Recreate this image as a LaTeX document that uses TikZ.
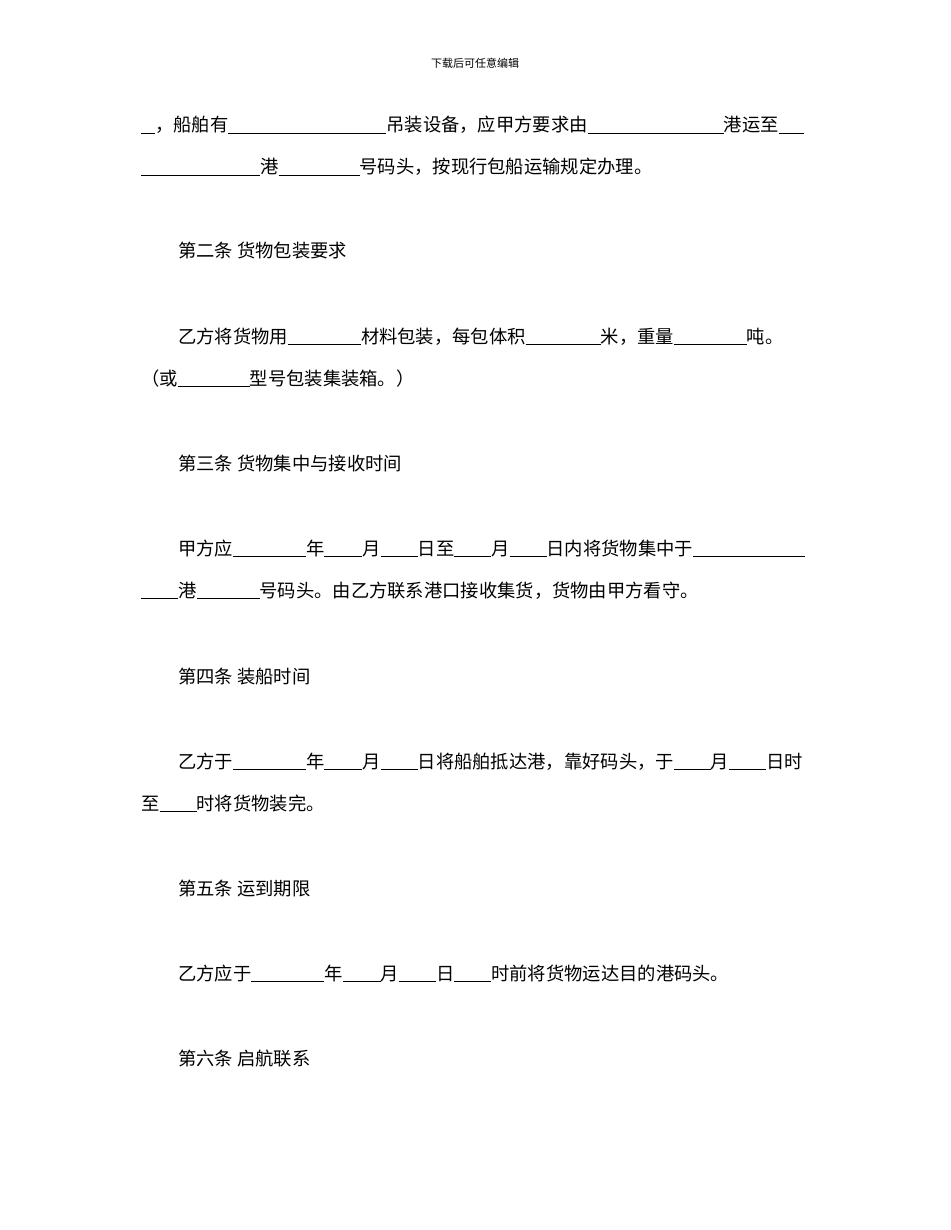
\documentclass[tikz,border=0pt]{standalone}
\usepackage{fontspec}
\newfontfamily\cjk{Noto Sans CJK SC}
\newcommand{\bl}[1]{\rule[-2pt]{#1pt}{0.6pt}}
\begin{document}
\begin{tikzpicture}[x=1pt,y=-1pt,
  ln/.style={anchor=base west,inner sep=0pt,font=\cjk\fontsize{18.3}{20}\selectfont},
  hd/.style={anchor=base,inner sep=0pt,font=\cjk\fontsize{11}{12}\selectfont}]
\useasboundingbox[fill=white] (0,0) rectangle (950,1230);
\node[hd] (h) at (475,68) {下载后可任意编辑};
\node[ln] (l1) at (141,132) {\bl{14}，船舶有\bl{158}吊装设备，应甲方要求由\bl{136}港运至\bl{25}};
\node[ln] (l2) at (141,174) {\bl{119}港\bl{81}号码头，按现行包船运输规定办理。};
\node[ln] (l3) at (178,258) {第二条\ 货物包装要求};
\node[ln] (l4) at (178,343) {乙方将货物用\bl{73}材料包装，每包体积\bl{75}米，重量\bl{73}吨。};
\node[ln] (l5) at (141,385) {（或\bl{72}型号包装集装箱。）};
\node[ln] (l6) at (178,470) {第三条\ 货物集中与接收时间};
\node[ln] (l7) at (178,555) {甲方应\bl{73}年\bl{38}月\bl{37}日至\bl{37}月\bl{37}日内将货物集中于\bl{112}};
\node[ln] (l8) at (141,597) {\bl{37}港\bl{63}号码头。由乙方联系港口接收集货，货物由甲方看守。};
\node[ln] (l9) at (178,683) {第四条\ 装船时间};
\node[ln] (l10) at (178,768) {乙方于\bl{73}年\bl{38}月\bl{37}日将船舶抵达港，靠好码头，于\bl{37}月\bl{37}日时};
\node[ln] (l11) at (141,810) {至\bl{37}时将货物装完。};
\node[ln] (l12) at (178,895) {第五条\ 运到期限};
\node[ln] (l13) at (178,980) {乙方应于\bl{73}年\bl{38}月\bl{37}日\bl{37}时前将货物运达目的港码头。};
\node[ln] (l14) at (178,1065) {第六条\ 启航联系};
\end{tikzpicture}
\end{document}
